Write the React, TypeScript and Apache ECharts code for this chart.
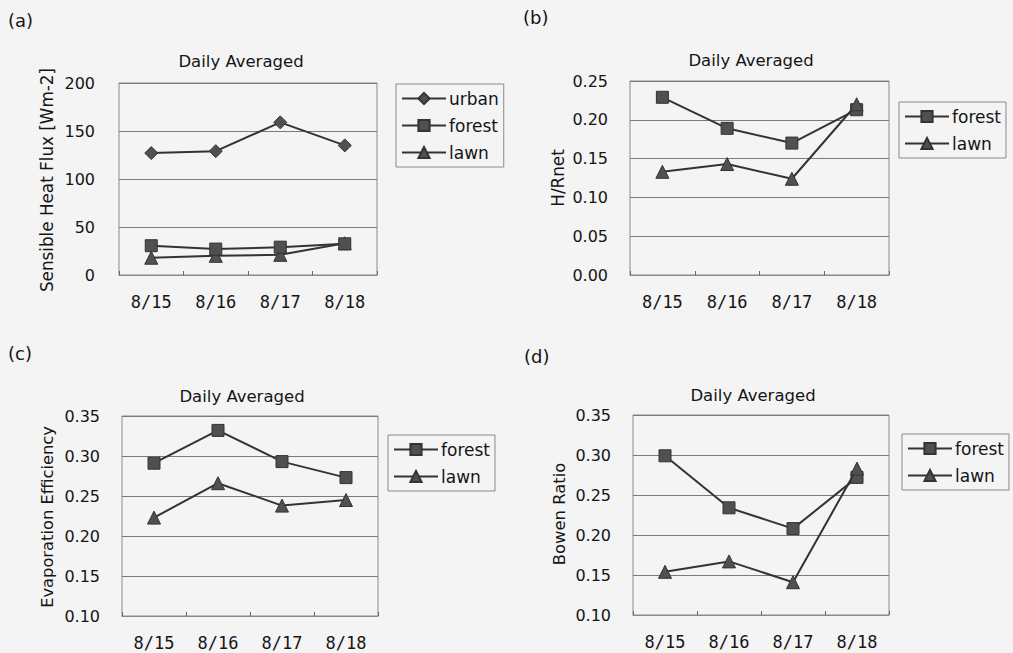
import React, { useEffect, useRef } from "react";
import * as echarts from "echarts";

const dates = ["8/15", "8/16", "8/17", "8/18"];
const aUrban = [127, 129, 159, 135];
const aForest = [30.5, 27, 29, 32.5];
const aLawn = [18, 20, 21, 33];
const bForest = [0.229, 0.189, 0.17, 0.213];
const bLawn = [0.133, 0.143, 0.124, 0.22];
const cForest = [0.291, 0.332, 0.293, 0.273];
const cLawn = [0.223, 0.266, 0.238, 0.245];
const dForest = [0.299, 0.234, 0.208, 0.272];
const dLawn = [0.154, 0.167, 0.141, 0.283];

const panelLabels = ["(a)", "(b)", "(c)", "(d)"];
const chartTitle = "Daily Averaged";
const yNames = ["Sensible Heat Flux [Wm-2]", "H/Rnet", "Evaporation Efficiency", "Bowen Ratio"];

const FONT = "DejaVu Sans";
const TXT = "#151515";
const BG = "#f4f4f4";

export default function App() {
  const ref = useRef<HTMLDivElement>(null);
  useEffect(() => {
    if (!ref.current) return;
    const chart = echarts.init(ref.current, null, { renderer: "svg" });

    const grids = [
      { left: 119, top: 83, width: 258, height: 192 },
      { left: 630, top: 81, width: 259, height: 194 },
      { left: 122, top: 416, width: 256, height: 200 },
      { left: 633, top: 415, width: 256, height: 200 },
    ].map((g) => ({ ...g, show: true, borderColor: "#8a8a8a", borderWidth: 1, backgroundColor: "transparent" }));

    const xAxes = grids.map((_, i) => ({
      type: "category",
      gridIndex: i,
      data: dates,
      boundaryGap: true,
      axisLine: { show: true, lineStyle: { color: "#8a8a8a", width: 1 } },
      axisTick: { show: true, inside: true, length: 4, lineStyle: { color: "#666" } },
      axisLabel: { color: TXT, fontFamily: "DejaVu Sans Mono", fontSize: 17, margin: 18 },
      splitLine: { show: false },
    }));

    const yRanges = [
      { min: 0, max: 200, interval: 50, dec: 0 },
      { min: 0, max: 0.25, interval: 0.05, dec: 2 },
      { min: 0.1, max: 0.35, interval: 0.05, dec: 2 },
      { min: 0.1, max: 0.35, interval: 0.05, dec: 2 },
    ];
    const yAxes = yRanges.map((r, i) => ({
      type: "value",
      gridIndex: i,
      min: r.min,
      max: r.max,
      interval: r.interval,
      axisLine: { show: false },
      axisTick: { show: false },
      axisLabel: {
        color: TXT,
        fontFamily: FONT,
        fontSize: 16,
        margin: i === 0 ? 24 : 22,
        formatter: (v: number) => v.toFixed(r.dec),
      },
      splitLine: { show: true, lineStyle: { color: "#7a7a7a", width: 1 } },
    }));

    const mk = (name: string, data: number[], idx: number, symbol: string, z = 2) => ({
      type: "line",
      name,
      data,
      xAxisIndex: idx,
      yAxisIndex: idx,
      symbol,
      symbolSize: symbol === "triangle" ? 13 : symbol === "diamond" ? 13 : 12,
      z,
      lineStyle: { color: "#333", width: 2 },
      itemStyle: { color: "#505050", borderColor: "#333", borderWidth: 1 },
    });

    const series = [
      mk("urban", aUrban, 0, "diamond"),
      mk("forest", aForest, 0, "rect", 3),
      mk("lawn", aLawn, 0, "triangle", 2),
      mk("forest", bForest, 1, "rect"),
      mk("lawn", bLawn, 1, "triangle", 3),
      mk("forest", cForest, 2, "rect"),
      mk("lawn", cLawn, 2, "triangle"),
      mk("forest", dForest, 3, "rect"),
      mk("lawn", dLawn, 3, "triangle", 3),
    ];

    const legendBase = {
      orient: "vertical",
      borderColor: "#8a8a8a",
      borderWidth: 1,
      padding: [6, 5, 6, 5],
      itemWidth: 44,
      itemHeight: 14,
      itemGap: 10,
      backgroundColor: "transparent",
      selectedMode: false,
      textStyle: { color: TXT, fontFamily: FONT, fontSize: 17, padding: [0, 0, 0, -2] },
    };
    const legends = [
      { ...legendBase, left: 396, top: 84, data: ["urban", "forest", "lawn"] },
      { ...legendBase, left: 899, top: 102, data: ["forest", "lawn"] },
      { ...legendBase, left: 388, top: 435, data: ["forest", "lawn"] },
      { ...legendBase, left: 902, top: 434, data: ["forest", "lawn"] },
    ];

    const txt = (text: string, x: number, y: number, size: number, align = "center", rotation = 0) => ({
      type: "text",
      x,
      y,
      rotation,
      style: {
        text,
        fill: TXT,
        font: `${size}px "${FONT}"`,
        fontFamily: FONT,
        fontSize: size,
        align,
        textAlign: align,
        verticalAlign: "middle",
        textVerticalAlign: "middle",
      },
    });

    const graphic = [
      txt(panelLabels[0], 8, 20, 18, "left"),
      txt(panelLabels[1], 523, 17, 18, "left"),
      txt(panelLabels[2], 8, 353, 18, "left"),
      txt(panelLabels[3], 524, 356, 18, "left"),
      txt(chartTitle, 241, 61, 16.5),
      txt(chartTitle, 751, 60, 16.5),
      txt(chartTitle, 242, 396, 16.5),
      txt(chartTitle, 753, 395, 16.5),
      txt(yNames[0], 47, 180, 16.8, "center", Math.PI / 2),
      txt(yNames[1], 558, 178, 16.8, "center", Math.PI / 2),
      txt(yNames[2], 47, 517, 16.3, "center", Math.PI / 2),
      txt(yNames[3], 559, 514, 16.4, "center", Math.PI / 2),
    ];

    chart.setOption({
      animation: false,
      backgroundColor: BG,
      grid: grids,
      xAxis: xAxes,
      yAxis: yAxes,
      legend: legends,
      series,
      graphic,
    });
    return () => chart.dispose();
  }, []);

  return (
    <div
      ref={ref}
      style={{ position: "fixed", left: 0, top: 0, width: 1013, height: 653 }}
    />
  );
}
